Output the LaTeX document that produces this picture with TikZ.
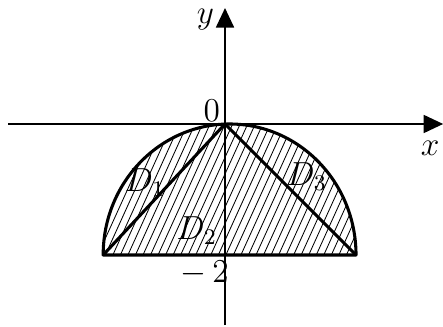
\documentclass[12pt,tikz,border=0pt]{standalone}
\usepackage{amsmath,amssymb}
\usepackage{tikz}
\usetikzlibrary{arrows.meta,positioning,calc}

\begin{document}
\begin{tikzpicture}[x=0.828cm, y=0.828cm,
    axis/.style={line width=0.5pt, -{Triangle[length=7pt,width=6.5pt]}},
    bdry/.style={line width=1.1pt, line join=round},
    hatch/.style={line width=0.3pt}]
        \useasboundingbox (-3.435,-3.084) rectangle (3.328,1.893);

        \coordinate (O) at (0,0);
        \coordinate (A) at (-1.86,-2);
        \coordinate (B) at (2.0,-2);

        % Hachures
        \begin{scope}
          \clip (A) arc[start angle=180, end angle=0, x radius=1.93, y radius=2] -- cycle;
          \foreach \s in {-3.0,-2.885,...,2.1}
            \draw[hatch] (\s,-2.05) -- ++(1.0,2.2);
        \end{scope}

        % Axes
        \draw[axis] (-3.31,0) -- (3.33,0) coordinate (xend);
        \draw[axis] (0,-3.07) -- (0,1.77) coordinate (yend);
        \node (xlab) at (3.13,-0.37) {$x$};
        \node (ylab) at (-0.3,1.6) {$y$};
        \node (zero) at (-0.2,0.2) {$0$};
        \node (mtwo) at (-0.31,-2.28) {$-\,2$};

        % Domaine
        \draw[bdry] (A) arc[start angle=180, end angle=0, x radius=1.93, y radius=2] -- cycle;
        \draw[bdry] (A) -- (O) -- (B);

        \node (d1) at (-1.22,-0.9) {$D_1$};
        \node (d2) at (-0.43,-1.62) {$D_2$};
        \node (d3) at (1.25,-0.8) {$D_3$};
    \end{tikzpicture}
\end{document}
